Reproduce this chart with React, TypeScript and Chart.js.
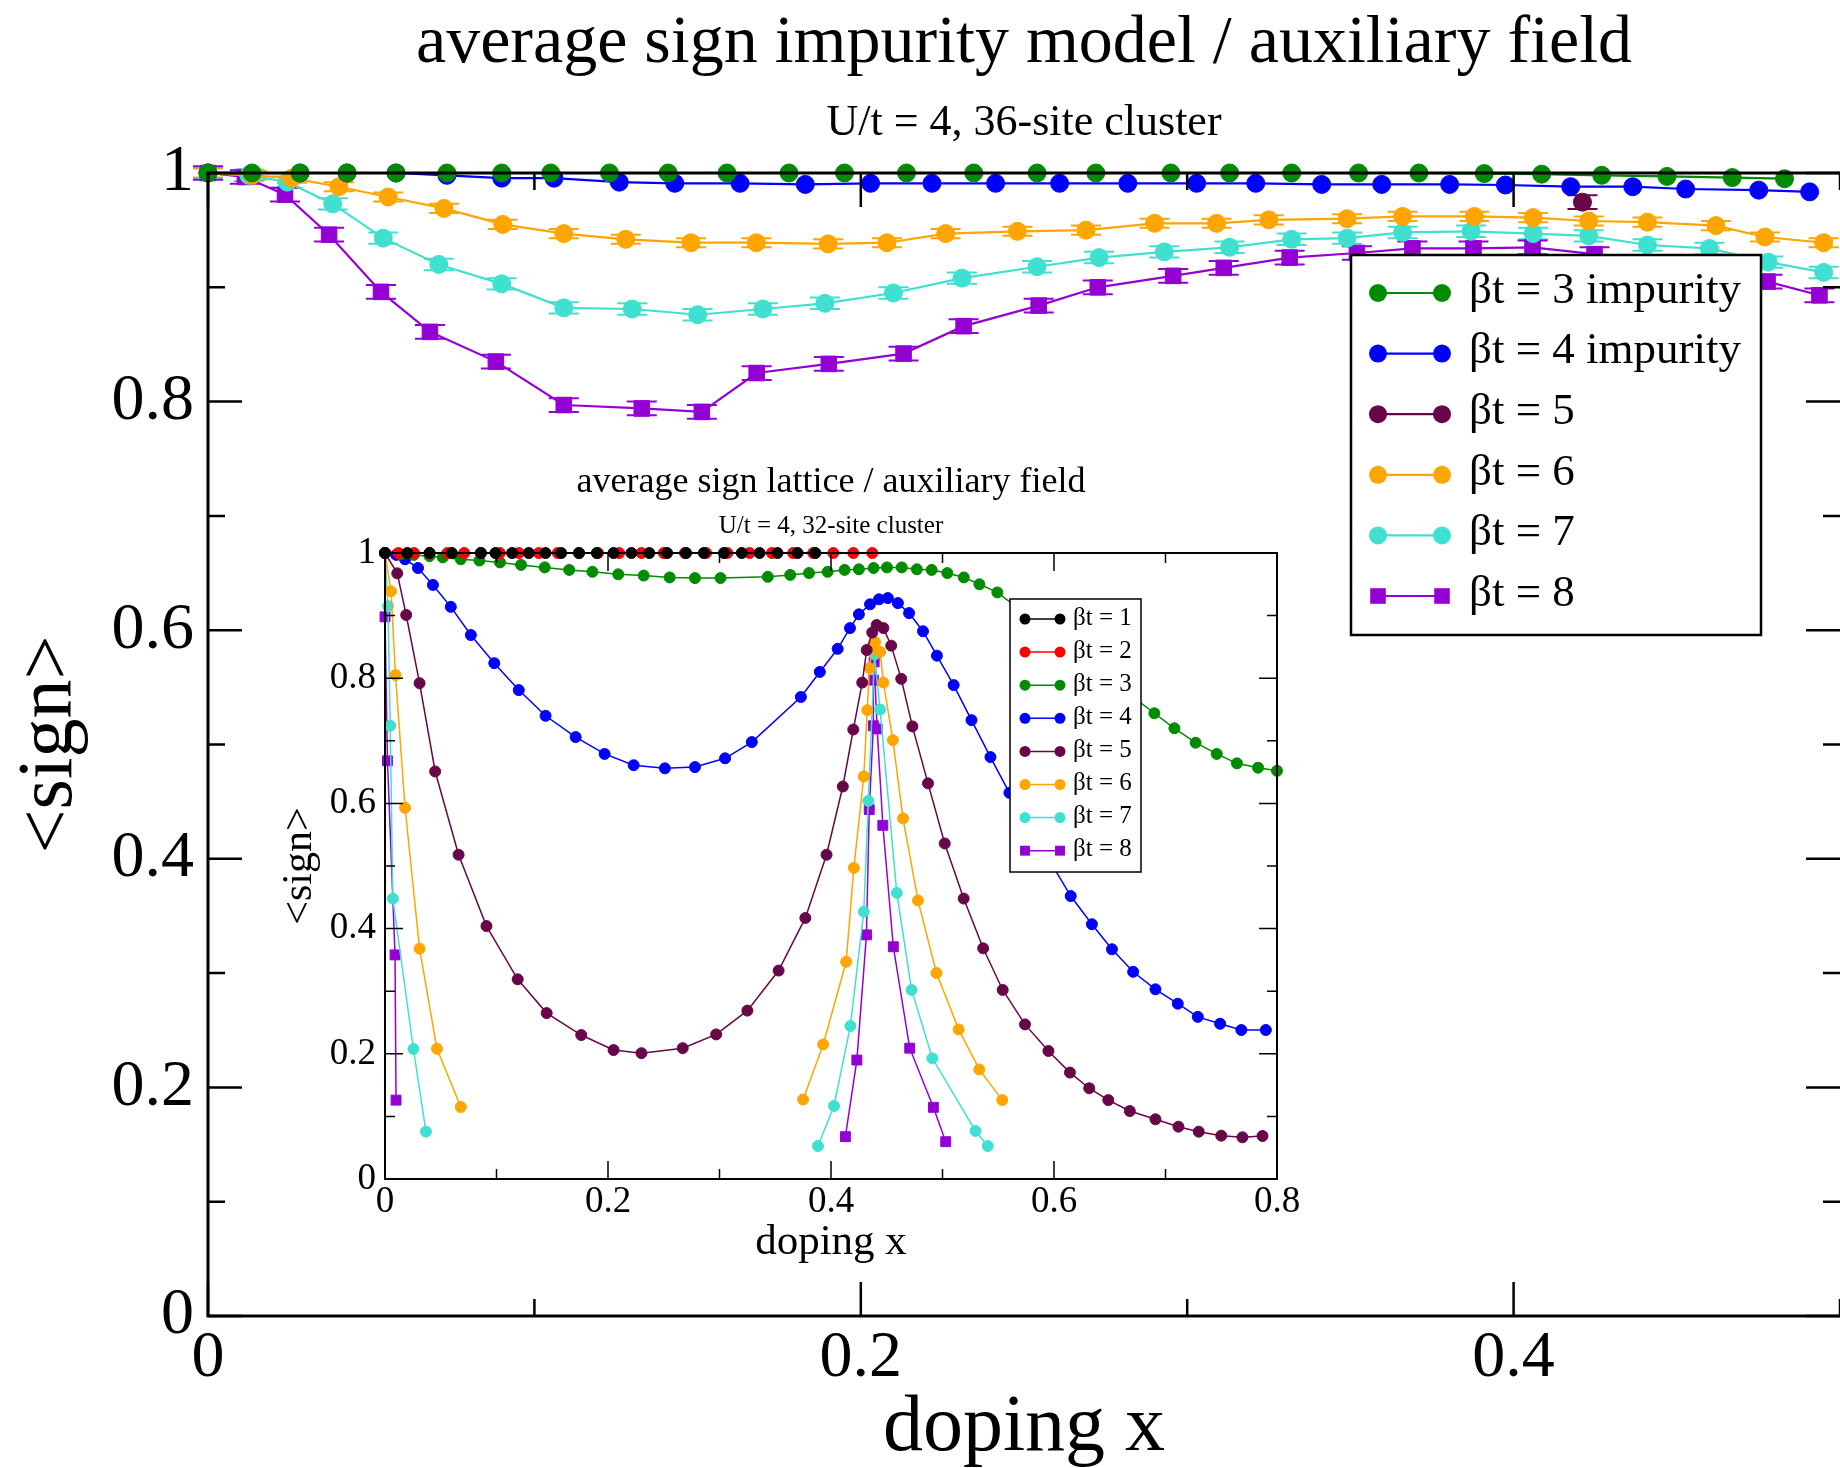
import React, { useEffect, useRef } from 'react';
import { Chart, registerables } from 'chart.js';

Chart.register(...registerables);

const SERIF = '"Liberation Serif", "Times New Roman", Times, serif';

const C_BLACK = '#000000';
const C_RED = '#ff0000';
const C_GREEN = '#008b00';
const C_BLUE = '#0000ff';
const C_MAROON = '#670748';
const C_ORANGE = '#ffa500';
const C_TURQ = '#40e0d0';
const C_VIOLET = '#9400d3';

// ---------------- main chart: impurity model, 36-site cluster ----------------
const MAIN_TITLE = 'average sign impurity model / auxiliary field';
const MAIN_SUBTITLE = 'U/t = 4, 36-site cluster';
const MAIN_X_TITLE = 'doping x';
const MAIN_Y_TITLE = '<sign>';
const MAIN_X_MAJOR = [0, 0.2, 0.4];
const MAIN_X_MINOR = [0.1, 0.3, 0.5];
const MAIN_Y_MAJOR = [0, 0.2, 0.4, 0.6, 0.8, 1];
const MAIN_Y_MINOR = [0.1, 0.3, 0.5, 0.7, 0.9];

const MAIN_B3_X = [0, 0.0135, 0.0282, 0.0426, 0.0576, 0.0732, 0.09, 0.105, 0.123, 0.141, 0.159, 0.178, 0.195, 0.214, 0.2346, 0.254, 0.272, 0.295, 0.313, 0.332, 0.3525, 0.371, 0.391, 0.4086, 0.427, 0.447, 0.467, 0.483];
const MAIN_B3_Y = [1, 1, 1, 1, 1, 1, 1, 1, 1, 1, 1, 1, 1, 1, 1, 1, 1, 1, 1, 1, 1, 1, 0.9995, 0.999, 0.998, 0.997, 0.996, 0.995];

const MAIN_B4_X = [0, 0.0282, 0.0426, 0.0576, 0.0732, 0.09, 0.106, 0.126, 0.143, 0.163, 0.183, 0.203, 0.2218, 0.2413, 0.2609, 0.2818, 0.3029, 0.321, 0.3412, 0.3596, 0.3804, 0.3975, 0.4175, 0.4365, 0.4527, 0.4751, 0.4907];
const MAIN_B4_Y = [1, 1, 1, 1, 0.998, 0.9955, 0.9955, 0.992, 0.991, 0.991, 0.99, 0.991, 0.991, 0.991, 0.991, 0.991, 0.991, 0.991, 0.99, 0.99, 0.99, 0.9895, 0.988, 0.988, 0.986, 0.985, 0.9835];

const MAIN_B5_X = [0.4211];
const MAIN_B5_Y = [0.9745];

const MAIN_B6_X = [0, 0.0135, 0.0257, 0.0401, 0.0552, 0.0723, 0.0903, 0.109, 0.128, 0.148, 0.168, 0.19, 0.208, 0.226, 0.248, 0.269, 0.29, 0.309, 0.325, 0.349, 0.366, 0.388, 0.406, 0.423, 0.441, 0.462, 0.477, 0.495];
const MAIN_B6_Y = [1, 0.998, 0.9955, 0.988, 0.979, 0.969, 0.955, 0.947, 0.942, 0.939, 0.939, 0.938, 0.939, 0.947, 0.949, 0.95, 0.956, 0.956, 0.959, 0.96, 0.962, 0.962, 0.961, 0.958, 0.957, 0.954, 0.944, 0.939];

const MAIN_B7_X = [0, 0.0125, 0.0243, 0.0382, 0.0537, 0.0707, 0.09, 0.109, 0.13, 0.15, 0.17, 0.189, 0.21, 0.231, 0.254, 0.273, 0.293, 0.313, 0.332, 0.349, 0.366, 0.387, 0.406, 0.423, 0.441, 0.46, 0.478, 0.495];
const MAIN_B7_Y = [1, 0.998, 0.992, 0.973, 0.943, 0.92, 0.903, 0.882, 0.881, 0.876, 0.881, 0.886, 0.895, 0.908, 0.918, 0.926, 0.931, 0.935, 0.942, 0.943, 0.948, 0.949, 0.947, 0.945, 0.937, 0.934, 0.922, 0.913];

const MAIN_B8_X = [0, 0.0113, 0.0236, 0.0371, 0.053, 0.068, 0.0882, 0.109, 0.1329, 0.1513, 0.1681, 0.1902, 0.2131, 0.2315, 0.2545, 0.2726, 0.2957, 0.3112, 0.3314, 0.352, 0.369, 0.3877, 0.4058, 0.4248, 0.4778, 0.4937];
const MAIN_B8_Y = [1, 0.9965, 0.981, 0.946, 0.896, 0.861, 0.835, 0.797, 0.794, 0.791, 0.825, 0.833, 0.842, 0.866, 0.884, 0.9, 0.91, 0.917, 0.926, 0.93, 0.934, 0.934, 0.935, 0.929, 0.905, 0.893];

const MAIN_ERR_B5 = 0.006;
const MAIN_ERR_B6 = 0.004;
const MAIN_ERR_B7 = 0.005;
const MAIN_ERR_B8 = 0.006;

// ---------------- inset chart: lattice, 32-site cluster ----------------
const INSET_TITLE = 'average sign lattice / auxiliary field';
const INSET_SUBTITLE = 'U/t = 4, 32-site cluster';
const INSET_X_TITLE = 'doping x';
const INSET_Y_TITLE = '<sign>';
const INSET_X_MAJOR = [0, 0.2, 0.4, 0.6, 0.8];
const INSET_X_MINOR = [0.1, 0.3, 0.5, 0.7];
const INSET_Y_MAJOR = [0, 0.2, 0.4, 0.6, 0.8, 1];
const INSET_Y_MINOR = [0.1, 0.3, 0.5, 0.7, 0.9];

const INSET_B1_X = [0, 0.02, 0.04, 0.06, 0.086, 0.099, 0.114, 0.129, 0.144, 0.158, 0.174, 0.19, 0.205, 0.221, 0.237, 0.253, 0.27, 0.286, 0.304, 0.32, 0.336, 0.352, 0.37, 0.386];
const INSET_B1_Y = [1, 1, 1, 1, 1, 1, 1, 1, 1, 1, 1, 1, 1, 1, 1, 1, 1, 1, 1, 1, 1, 1, 1, 1];

const INSET_B2_X = [0, 0.012, 0.026, 0.04, 0.056, 0.071, 0.086, 0.103, 0.12, 0.138, 0.155, 0.174, 0.191, 0.21, 0.23, 0.25, 0.269, 0.288, 0.307, 0.327, 0.347, 0.366, 0.384, 0.402, 0.42, 0.437];
const INSET_B2_Y = [1, 1, 1, 1, 1, 1, 1, 1, 1, 1, 1, 1, 1, 1, 1, 1, 1, 1, 1, 1, 1, 1, 1, 1, 1, 1];

const INSET_B3_X = [0, 0.0138, 0.0258, 0.0399, 0.0518, 0.0679, 0.0847, 0.1031, 0.122, 0.1432, 0.1652, 0.186, 0.2092, 0.232, 0.2553, 0.278, 0.3009, 0.3433, 0.3634, 0.3803, 0.397, 0.4122, 0.425, 0.4382, 0.4502, 0.4634, 0.477, 0.4903, 0.5043, 0.5191, 0.5331, 0.5492, 0.69, 0.708, 0.727, 0.746, 0.764, 0.783, 0.8];
const INSET_B3_Y = [1, 0.998, 0.997, 0.995, 0.993, 0.99, 0.988, 0.985, 0.981, 0.977, 0.973, 0.97, 0.966, 0.964, 0.961, 0.96, 0.96, 0.962, 0.965, 0.968, 0.97, 0.973, 0.974, 0.976, 0.977, 0.977, 0.974, 0.973, 0.968, 0.961, 0.95, 0.937, 0.744, 0.72, 0.697, 0.679, 0.664, 0.657, 0.652];

const INSET_B4_X = [0, 0.01, 0.018, 0.0296, 0.043, 0.059, 0.077, 0.098, 0.12, 0.144, 0.171, 0.197, 0.223, 0.251, 0.278, 0.305, 0.329, 0.373, 0.39, 0.406, 0.417, 0.425, 0.435, 0.443, 0.451, 0.46, 0.47, 0.4825, 0.495, 0.51, 0.526, 0.543, 0.56, 0.615, 0.634, 0.652, 0.671, 0.691, 0.711, 0.729, 0.749, 0.768, 0.79];
const INSET_B4_Y = [1, 0.997, 0.99, 0.976, 0.949, 0.914, 0.869, 0.824, 0.781, 0.74, 0.706, 0.679, 0.661, 0.656, 0.658, 0.672, 0.698, 0.77, 0.81, 0.847, 0.88, 0.902, 0.918, 0.926, 0.928, 0.92, 0.904, 0.875, 0.836, 0.789, 0.733, 0.674, 0.617, 0.452, 0.407, 0.367, 0.331, 0.303, 0.28, 0.259, 0.248, 0.238, 0.238];

const INSET_B5_X = [0, 0.011, 0.019, 0.031, 0.045, 0.066, 0.091, 0.119, 0.145, 0.176, 0.205, 0.23, 0.267, 0.297, 0.325, 0.353, 0.377, 0.396, 0.4106, 0.42, 0.428, 0.432, 0.437, 0.441, 0.447, 0.454, 0.463, 0.473, 0.487, 0.502, 0.519, 0.5365, 0.554, 0.574, 0.595, 0.6143, 0.6316, 0.6487, 0.668, 0.691, 0.7116, 0.7298, 0.75, 0.769, 0.787];
const INSET_B5_Y = [1, 0.9675, 0.901, 0.792, 0.651, 0.518, 0.404, 0.319, 0.265, 0.23, 0.206, 0.201, 0.209, 0.231, 0.269, 0.333, 0.417, 0.518, 0.627, 0.718, 0.793, 0.845, 0.873, 0.885, 0.88, 0.852, 0.799, 0.723, 0.632, 0.536, 0.448, 0.3685, 0.302, 0.247, 0.2045, 0.17, 0.145, 0.126, 0.1086, 0.0954, 0.0836, 0.0756, 0.0692, 0.0666, 0.0687];

const INSET_B6_LOW_X = [0, 0.0054, 0.0094, 0.018, 0.031, 0.0466, 0.068];
const INSET_B6_LOW_Y = [1, 0.939, 0.805, 0.593, 0.368, 0.208, 0.115];
const INSET_B6_HIGH_X = [0.375, 0.393, 0.4136, 0.4205, 0.4294, 0.4325, 0.4345, 0.437, 0.4395, 0.444, 0.447, 0.4555, 0.4646, 0.478, 0.4946, 0.5145, 0.533, 0.5536];
const INSET_B6_HIGH_Y = [0.127, 0.215, 0.347, 0.497, 0.643, 0.749, 0.816, 0.85, 0.858, 0.842, 0.793, 0.701, 0.576, 0.445, 0.329, 0.239, 0.175, 0.126];

const INSET_B7_LOW_X = [0, 0.0027, 0.0047, 0.007, 0.0255, 0.0367];
const INSET_B7_LOW_Y = [1, 0.915, 0.724, 0.448, 0.2077, 0.0756];
const INSET_B7_HIGH_X = [0.3883, 0.4027, 0.4174, 0.4294, 0.4335, 0.439, 0.444, 0.459, 0.4723, 0.4909, 0.5296, 0.5406];
const INSET_B7_HIGH_Y = [0.0527, 0.1166, 0.2444, 0.427, 0.604, 0.838, 0.75, 0.457, 0.302, 0.1928, 0.0767, 0.0527];

const INSET_B8_LOW_X = [0, 0.0022, 0.009, 0.0099];
const INSET_B8_LOW_Y = [0.898, 0.668, 0.358, 0.126];
const INSET_B8_HIGH_X = [0.4129, 0.4232, 0.4318, 0.4343, 0.438, 0.438, 0.4387, 0.4414, 0.4465, 0.4559, 0.4706, 0.4918, 0.5029];
const INSET_B8_HIGH_Y = [0.0676, 0.19, 0.39, 0.59, 0.724, 0.797, 0.826, 0.719, 0.565, 0.371, 0.209, 0.1145, 0.0596];

// ---------------------------------------------------------------------------
type Style = 'circle' | 'rect';
interface Series {
  label: string;
  color: string;
  style: Style;
  xs: number[];
  ys: (number | null)[];
  err?: number;
}

function joinGap(ax: number[], ay: number[], bx: number[], by: number[]) {
  return {
    xs: [...ax, ax[ax.length - 1], ...bx],
    ys: [...ay, null, ...by] as (number | null)[],
  };
}

const fmt = (v: number | string) => String(Math.round(Number(v) * 10) / 10);

interface Spec {
  w: number;
  h: number;
  area: { left: number; top: number; right: number; bottom: number };
  xMax: number;
  yMax: number;
  xMajor: number[];
  xMinor: number[];
  yMajor: number[];
  yMinor: number[];
  tickFont: number;
  xTickPad: number;
  yTickPad: number;
  majorLen: number;
  minorLen: number;
  tickWidth: number;
  frameWidth: number;
  drawRight: boolean;
  lineWidth: number;
  circleR: number;
  rectR: number;
  errCap: number;
  series: Series[];
  title: { text: string; size: number; y: number };
  subtitle: { text: string; size: number; y: number };
  xTitle: { text: string; size: number; y: number };
  yTitle: { text: string; size: number; x: number };
  legend: {
    left: number; top: number; right: number; bottom: number;
    row0: number; dy: number; lx0: number; lx1: number; tx: number;
    font: number; border: number; textDy: number;
  };
}

function drawMarker(ctx: CanvasRenderingContext2D, style: Style, x: number, y: number, r: number, color: string) {
  ctx.fillStyle = color;
  if (style === 'rect') {
    const s = r * Math.SQRT1_2;
    ctx.fillRect(x - s, y - s, 2 * s, 2 * s);
  } else {
    ctx.beginPath();
    ctx.arc(x, y, r, 0, Math.PI * 2);
    ctx.fill();
  }
}

function decorPlugin(spec: Spec) {
  return {
    id: 'decor',
    beforeDatasetsDraw(chart: any) {
      const { ctx } = chart;
      const ys = chart.scales.y;
      ctx.save();
      chart.data.datasets.forEach((ds: any, i: number) => {
        if (!ds.errBar) return;
        const meta = chart.getDatasetMeta(i);
        ctx.strokeStyle = ds.borderColor;
        ctx.lineWidth = 2;
        meta.data.forEach((el: any, j: number) => {
          const p = ds.data[j];
          if (p.y == null) return;
          const yT = ys.getPixelForValue(p.y + ds.errBar);
          const yB = ys.getPixelForValue(p.y - ds.errBar);
          ctx.beginPath();
          ctx.moveTo(el.x, yT);
          ctx.lineTo(el.x, yB);
          ctx.moveTo(el.x - spec.errCap, yT);
          ctx.lineTo(el.x + spec.errCap, yT);
          ctx.moveTo(el.x - spec.errCap, yB);
          ctx.lineTo(el.x + spec.errCap, yB);
          ctx.stroke();
        });
      });
      ctx.restore();
    },
    afterDatasetsDraw(chart: any) {
      const { ctx, chartArea: a } = chart;
      const xs = chart.scales.x;
      const ys = chart.scales.y;
      ctx.save();
      // ticks (inward, all sides)
      ctx.strokeStyle = '#000';
      ctx.lineWidth = spec.tickWidth;
      ctx.beginPath();
      const xt = (vals: number[], len: number) => {
        vals.forEach((v) => {
          const px = xs.getPixelForValue(v);
          ctx.moveTo(px, a.bottom);
          ctx.lineTo(px, a.bottom - len);
          ctx.moveTo(px, a.top);
          ctx.lineTo(px, a.top + len);
        });
      };
      const yt = (vals: number[], len: number) => {
        vals.forEach((v) => {
          const py = ys.getPixelForValue(v);
          ctx.moveTo(a.left, py);
          ctx.lineTo(a.left + len, py);
          ctx.moveTo(a.right, py);
          ctx.lineTo(a.right - len, py);
        });
      };
      xt(spec.xMajor, spec.majorLen);
      xt(spec.xMinor, spec.minorLen);
      yt(spec.yMajor, spec.majorLen);
      yt(spec.yMinor, spec.minorLen);
      ctx.stroke();
      // frame
      ctx.lineWidth = spec.frameWidth;
      ctx.beginPath();
      ctx.moveTo(a.right + (spec.drawRight ? 0 : 3), a.top);
      ctx.lineTo(a.left, a.top);
      ctx.lineTo(a.left, a.bottom);
      ctx.lineTo(a.right + (spec.drawRight ? 0 : 3), a.bottom);
      if (spec.drawRight) ctx.closePath();
      ctx.stroke();

      // legend
      const L = spec.legend;
      ctx.fillStyle = '#fff';
      ctx.fillRect(L.left, L.top, L.right - L.left, L.bottom - L.top);
      ctx.lineWidth = L.border;
      ctx.strokeStyle = '#000';
      ctx.strokeRect(L.left, L.top, L.right - L.left, L.bottom - L.top);
      ctx.font = `${L.font}px ${SERIF}`;
      ctx.textAlign = 'left';
      ctx.textBaseline = 'middle';
      spec.series.forEach((s, i) => {
        const y = L.row0 + i * L.dy;
        ctx.strokeStyle = s.color;
        ctx.lineWidth = spec.lineWidth;
        ctx.beginPath();
        ctx.moveTo(L.lx0, y);
        ctx.lineTo(L.lx1, y);
        ctx.stroke();
        const r = s.style === 'rect' ? spec.rectR : spec.circleR;
        drawMarker(ctx, s.style, L.lx0, y, r, s.color);
        drawMarker(ctx, s.style, L.lx1, y, r, s.color);
        ctx.fillStyle = '#000';
        ctx.fillText(s.label, L.tx, y + L.textDy);
      });

      // titles
      const cx = (a.left + a.right) / 2;
      const cy = (a.top + a.bottom) / 2;
      ctx.fillStyle = '#000';
      ctx.textAlign = 'center';
      ctx.textBaseline = 'middle';
      ctx.font = `${spec.title.size}px ${SERIF}`;
      ctx.fillText(spec.title.text, cx, spec.title.y);
      ctx.font = `${spec.subtitle.size}px ${SERIF}`;
      ctx.fillText(spec.subtitle.text, cx, spec.subtitle.y);
      ctx.font = `${spec.xTitle.size}px ${SERIF}`;
      ctx.fillText(spec.xTitle.text, cx, spec.xTitle.y);
      ctx.save();
      ctx.translate(spec.yTitle.x, cy);
      ctx.rotate(-Math.PI / 2);
      ctx.font = `${spec.yTitle.size}px ${SERIF}`;
      ctx.fillText(spec.yTitle.text, 0, 0);
      ctx.restore();
      ctx.restore();
    },
  };
}

function buildConfig(spec: Spec): any {
  const datasets = spec.series.map((s) => ({
    label: s.label,
    data: s.xs.map((x, i) => ({ x, y: s.ys[i] })),
    borderColor: s.color,
    backgroundColor: s.color,
    pointBackgroundColor: s.color,
    pointBorderColor: s.color,
    pointBorderWidth: 1,
    pointStyle: s.style,
    pointRadius: s.style === 'rect' ? spec.rectR : spec.circleR,
    borderWidth: spec.lineWidth,
    showLine: true,
    fill: false,
    tension: 0,
    spanGaps: false,
    clip: false,
    errBar: s.err || 0,
  }));
  const tickFont = { family: SERIF, size: spec.tickFont };
  return {
    type: 'line',
    data: { datasets },
    options: {
      animation: false,
      responsive: false,
      maintainAspectRatio: false,
      devicePixelRatio: 1,
      events: [],
      layout: {
        autoPadding: false,
        padding: { top: spec.area.top, right: spec.w - spec.area.right, left: 0, bottom: 0 },
      },
      plugins: {
        legend: { display: false },
        tooltip: { enabled: false },
        title: { display: false },
      },
      scales: {
        x: {
          type: 'linear',
          min: 0,
          max: spec.xMax,
          afterBuildTicks: (sc: any) => {
            sc.ticks = spec.xMajor.map((v) => ({ value: v }));
          },
          afterFit: (sc: any) => {
            sc.height = spec.h - spec.area.bottom;
            sc.paddingRight = 0;
            sc.paddingLeft = 0;
          },
          grid: { display: false, drawTicks: false },
          border: { display: false },
          ticks: {
            font: tickFont,
            color: '#000',
            padding: spec.xTickPad,
            maxRotation: 0,
            minRotation: 0,
            autoSkip: false,
            callback: (v: any) => fmt(v),
          },
        },
        y: {
          type: 'linear',
          min: 0,
          max: spec.yMax,
          afterBuildTicks: (sc: any) => {
            sc.ticks = spec.yMajor.map((v) => ({ value: v }));
          },
          afterFit: (sc: any) => {
            sc.width = spec.area.left;
            sc.paddingTop = 0;
            sc.paddingBottom = 0;
          },
          grid: { display: false, drawTicks: false },
          border: { display: false },
          ticks: {
            font: tickFont,
            color: '#000',
            padding: spec.yTickPad,
            autoSkip: false,
            callback: (v: any) => fmt(v),
          },
        },
      },
    },
    plugins: [decorPlugin(spec)],
  };
}

const MAIN_SPEC: Spec = {
  w: 1840,
  h: 1468,
  area: { left: 208, top: 173, right: 1840, bottom: 1316 },
  xMax: 0.5,
  yMax: 1,
  xMajor: MAIN_X_MAJOR,
  xMinor: MAIN_X_MINOR,
  yMajor: MAIN_Y_MAJOR,
  yMinor: MAIN_Y_MINOR,
  tickFont: 66,
  xTickPad: 3,
  yTickPad: 14,
  majorLen: 34,
  minorLen: 17,
  tickWidth: 2.5,
  frameWidth: 3,
  drawRight: false,
  lineWidth: 2.2,
  circleR: 9,
  rectR: 11,
  errCap: 15,
  series: [
    { label: 'βt = 3 impurity', color: C_GREEN, style: 'circle', xs: MAIN_B3_X, ys: MAIN_B3_Y },
    { label: 'βt = 4 impurity', color: C_BLUE, style: 'circle', xs: MAIN_B4_X, ys: MAIN_B4_Y },
    { label: 'βt = 5', color: C_MAROON, style: 'circle', xs: MAIN_B5_X, ys: MAIN_B5_Y, err: MAIN_ERR_B5 },
    { label: 'βt = 6', color: C_ORANGE, style: 'circle', xs: MAIN_B6_X, ys: MAIN_B6_Y, err: MAIN_ERR_B6 },
    { label: 'βt = 7', color: C_TURQ, style: 'circle', xs: MAIN_B7_X, ys: MAIN_B7_Y, err: MAIN_ERR_B7 },
    { label: 'βt = 8', color: C_VIOLET, style: 'rect', xs: MAIN_B8_X, ys: MAIN_B8_Y, err: MAIN_ERR_B8 },
  ],
  title: { text: MAIN_TITLE, size: 68, y: 44 },
  subtitle: { text: MAIN_SUBTITLE, size: 44, y: 123 },
  xTitle: { text: MAIN_X_TITLE, size: 80, y: 1429 },
  yTitle: { text: MAIN_Y_TITLE, size: 78, x: 51 },
  legend: {
    left: 1351, top: 255, right: 1761, bottom: 635,
    row0: 293, dy: 60.6, lx0: 1378, lx1: 1442, tx: 1469,
    font: 45, border: 2.5, textDy: -2,
  },
};

const B6 = joinGap(INSET_B6_LOW_X, INSET_B6_LOW_Y, INSET_B6_HIGH_X, INSET_B6_HIGH_Y);
const B7 = joinGap(INSET_B7_LOW_X, INSET_B7_LOW_Y, INSET_B7_HIGH_X, INSET_B7_HIGH_Y);
const B8 = joinGap(INSET_B8_LOW_X, INSET_B8_LOW_Y, INSET_B8_HIGH_X, INSET_B8_HIGH_Y);

const INSET_LEFT = 260;
const INSET_TOP = 440;

const INSET_SPEC: Spec = {
  w: 1050,
  h: 840,
  area: { left: 125, top: 113, right: 1017, bottom: 739 },
  xMax: 0.8,
  yMax: 1,
  xMajor: INSET_X_MAJOR,
  xMinor: INSET_X_MINOR,
  yMajor: INSET_Y_MAJOR,
  yMinor: INSET_Y_MINOR,
  tickFont: 37,
  xTickPad: 1,
  yTickPad: 9,
  majorLen: 18,
  minorLen: 10,
  tickWidth: 1.5,
  frameWidth: 2,
  drawRight: true,
  lineWidth: 1.5,
  circleR: 5.5,
  rectR: 7,
  errCap: 0,
  series: [
    { label: 'βt = 1', color: C_BLACK, style: 'circle', xs: INSET_B1_X, ys: INSET_B1_Y },
    { label: 'βt = 2', color: C_RED, style: 'circle', xs: INSET_B2_X, ys: INSET_B2_Y },
    { label: 'βt = 3', color: C_GREEN, style: 'circle', xs: INSET_B3_X, ys: INSET_B3_Y },
    { label: 'βt = 4', color: C_BLUE, style: 'circle', xs: INSET_B4_X, ys: INSET_B4_Y },
    { label: 'βt = 5', color: C_MAROON, style: 'circle', xs: INSET_B5_X, ys: INSET_B5_Y },
    { label: 'βt = 6', color: C_ORANGE, style: 'circle', xs: B6.xs, ys: B6.ys },
    { label: 'βt = 7', color: C_TURQ, style: 'circle', xs: B7.xs, ys: B7.ys },
    { label: 'βt = 8', color: C_VIOLET, style: 'rect', xs: B8.xs, ys: B8.ys },
  ],
  title: { text: INSET_TITLE, size: 36, y: 43 },
  subtitle: { text: INSET_SUBTITLE, size: 25, y: 86 },
  xTitle: { text: INSET_X_TITLE, size: 43, y: 803 },
  yTitle: { text: INSET_Y_TITLE, size: 42, x: 40 },
  legend: {
    left: 750, top: 159, right: 881, bottom: 432,
    row0: 179, dy: 33.1, lx0: 765, lx1: 800, tx: 813,
    font: 25, border: 1.5, textDy: -1,
  },
};

export default function App() {
  const mainRef = useRef<HTMLCanvasElement>(null);
  const insetRef = useRef<HTMLCanvasElement>(null);

  useEffect(() => {
    const c1 = new Chart(mainRef.current as HTMLCanvasElement, buildConfig(MAIN_SPEC));
    const c2 = new Chart(insetRef.current as HTMLCanvasElement, buildConfig(INSET_SPEC));
    return () => {
      c1.destroy();
      c2.destroy();
    };
  }, []);

  return (
    <div style={{ position: 'absolute', left: 0, top: 0, width: 1840, height: 1468, background: '#fff', overflow: 'hidden' }}>
      <canvas
        ref={mainRef}
        width={1840}
        height={1468}
        style={{ position: 'absolute', left: 0, top: 0, width: 1840, height: 1468 }}
      />
      <canvas
        ref={insetRef}
        width={1050}
        height={840}
        style={{ position: 'absolute', left: INSET_LEFT, top: INSET_TOP, width: 1050, height: 840 }}
      />
    </div>
  );
}
